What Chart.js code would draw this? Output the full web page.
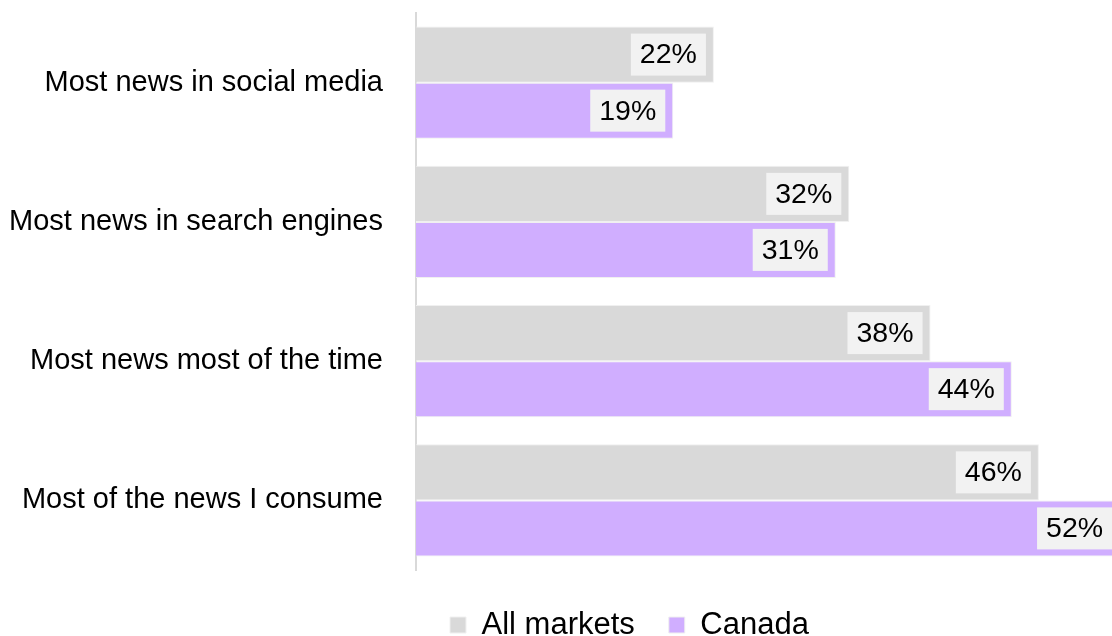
<!DOCTYPE html>
<html>
<head>
<meta charset="utf-8">
<script src="https://cdn.jsdelivr.net/npm/chart.js@4.4.1/dist/chart.umd.min.js"></script>
<style>
  html, body { margin: 0; padding: 0; background: #fff; }
  #wrap { width: 1112px; height: 636px; position: relative; }
</style>
</head>
<body>
<div id="wrap"><canvas id="newsChart"></canvas></div>
<script>
var categories = [
  "Most news in social media",
  "Most news in search engines",
  "Most news most of the time",
  "Most of the news I consume"
];
var allMarkets = [22, 32, 38, 46];
var canada = [19, 31, 44, 52];

var FONT = '"Liberation Sans", Arial, sans-serif';

// light box with the value at the end of every bar
var valueBoxes = {
  id: 'valueBoxes',
  afterDatasetsDraw: function(chart) {
    var ctx = chart.ctx;
    ctx.save();
    ctx.font = '28.5px ' + FONT;
    ctx.textAlign = 'center';
    ctx.textBaseline = 'middle';
    chart.data.datasets.forEach(function(ds, i) {
      chart.getDatasetMeta(i).data.forEach(function(bar, j) {
        var txt = ds.data[j] + '%';
        var w = ctx.measureText(txt).width + 18;
        var right = bar.x - 8;
        ctx.fillStyle = '#f2f2f2';
        ctx.fillRect(right - w, bar.y - 21, w, 42);
        ctx.fillStyle = '#000';
        ctx.fillText(txt, right - w / 2, bar.y + 1);
      });
    });
    ctx.restore();
  }
};

new Chart(document.getElementById('newsChart'), {
  type: 'bar',
  data: {
    labels: categories,
    datasets: [
      {
        label: 'All markets',
        data: allMarkets,
        backgroundColor: '#d9d9d9',
        borderColor: '#f0f0f0',
        borderWidth: 1
      },
      {
        label: 'Canada',
        data: canada,
        backgroundColor: '#d0aeff',
        borderColor: '#f0f0f0',
        borderWidth: 1
      }
    ]
  },
  options: {
    indexAxis: 'y',
    responsive: true,
    maintainAspectRatio: false,
    animation: false,
    categoryPercentage: 0.805,
    barPercentage: 1.0,
    layout: { padding: { top: 13, left: 0, right: 0, bottom: 0 } },
    scales: {
      x: {
        min: 0,
        max: 51.4,
        grid: { display: false, drawTicks: false },
        border: { display: false },
        ticks: { display: false },
        afterFit: function(s) { s.height = 5.5; }
      },
      y: {
        grid: { display: false, drawTicks: false },
        border: { display: true, color: '#d9d9d9', width: 2 },
        ticks: {
          color: '#000',
          padding: 33,
          font: { family: FONT, size: 29 }
        },
        afterFit: function(s) {
          s.width = 416;
          // tick padding should not push the plot down
          s.paddingTop = 0;
          s.paddingBottom = 0;
        }
      }
    },
    plugins: {
      legend: {
        position: 'bottom',
        fullSize: false,
        align: 'start',
        maxHeight: 60.5,
        labels: {
          color: '#000',
          boxWidth: 16,
          boxHeight: 16,
          padding: 34,
          font: { family: FONT, size: 31 }
        }
      },
      tooltip: { enabled: false }
    }
  },
  plugins: [valueBoxes]
});
</script>
</body>
</html>
